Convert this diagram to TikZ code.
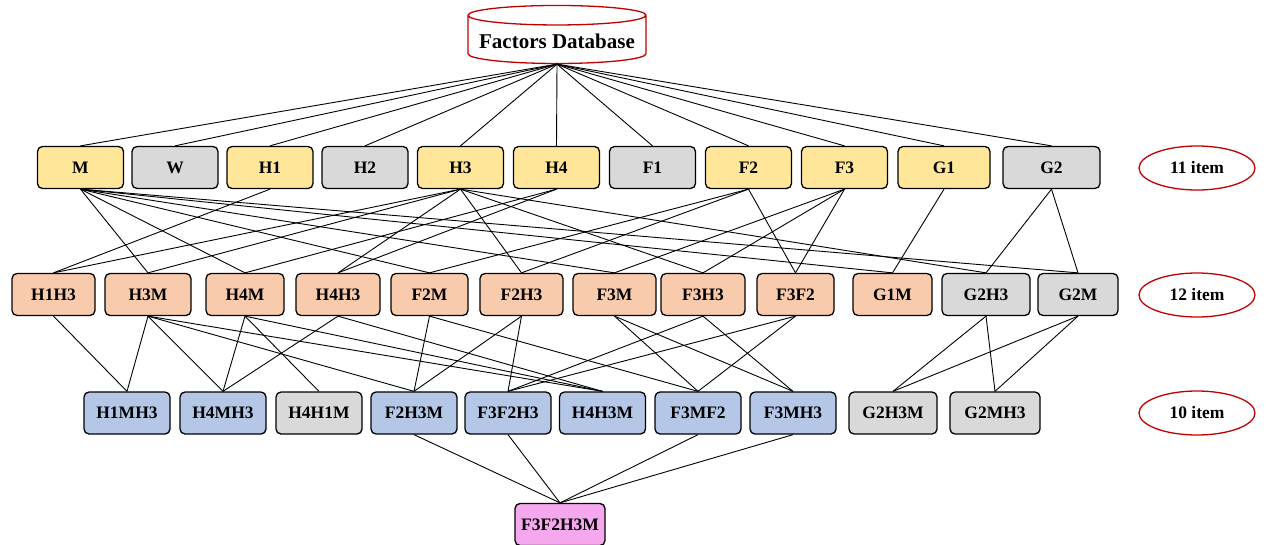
\documentclass[tikz,border=0pt]{standalone}
\usepackage{fontspec}
\setmainfont{Liberation Serif}
\usetikzlibrary{shapes.geometric}

\definecolor{gold}{RGB}{255,230,153}
\definecolor{peach}{RGB}{248,203,173}
\definecolor{ash}{RGB}{217,217,217}
\definecolor{sky}{RGB}{180,199,231}
\definecolor{orchid}{RGB}{246,168,238}
\definecolor{brick}{RGB}{192,0,0}

\tikzset{
  item/.style={draw, rounded corners=5pt, line width=1.3pt, minimum width=86pt,
    minimum height=42pt, inner sep=2pt, font=\bfseries\fontsize{17.5}{17.5}\selectfont},
  one/.style={item, fill=gold},
  two/.style={item, fill=peach},
  three/.style={item, fill=sky},
  four/.style={item, fill=orchid},
  none/.style={item, fill=ash},
  count/.style={draw=brick, ellipse, line width=1.3pt, minimum width=116pt,
    minimum height=44pt, font=\bfseries\fontsize{17.5}{17.5}\selectfont},
  link/.style={line width=0.9pt}
}

\begin{document}
\begin{tikzpicture}[x=1pt, y=-1pt]
  \useasboundingbox (0,0) rectangle (1266,544);
  \node (db) [draw=brick, line width=1.3pt, cylinder, shape border rotate=90, aspect=0.12,
    minimum width=178pt, minimum height=58pt, font=\bfseries\fontsize{21}{21}\selectfont]
    at (557,41) {Factors Database};

  % 1-itemsets
  \node (M)  [one]  at (80.5,167.5)  {M};
  \node (W)  [none] at (175,167.5)   {W};
  \node (H1) [one]  at (270,167.5)   {H1};
  \node (H2) [none] at (365,167.5)   {H2};
  \node (H3) [one]  at (460.5,167.5) {H3};
  \node (H4) [one]  at (556.5,167.5) {H4};
  \node (F1) [none] at (652.5,167.5) {F1};
  \node (F2) [one]  at (748.5,167.5) {F2};
  \node (F3) [one]  at (844.5,167.5) {F3};
  \node (G1) [one, minimum width=92pt]  at (944,167.5)    {G1};
  \node (G2) [none, minimum width=97pt] at (1051.5,167.5) {G2};

  % 2-itemsets
  \node (H1H3) [two, minimum width=83pt] at (53.5,294.5)  {H1H3};
  \node (H3M)  [two]                     at (148,294.5)   {H3M};
  \node (H4M)  [two, minimum width=78pt] at (245,294.5)   {H4M};
  \node (H4H3) [two, minimum width=84pt] at (338,294.5)   {H4H3};
  \node (F2M)  [two, minimum width=77pt] at (429.5,294.5) {F2M};
  \node (F2H3) [two, minimum width=83pt] at (521.5,294.5) {F2H3};
  \node (F3M)  [two, minimum width=83pt] at (614.5,294.5) {F3M};
  \node (F3H3) [two, minimum width=84pt] at (703,294.5)   {F3H3};
  \node (F3F2) [two, minimum width=77pt] at (795.5,294.5) {F3F2};
  \node (G1M)  [two, minimum width=79pt] at (892.5,294.5) {G1M};
  \node (G2H3) [none, minimum width=88pt] at (986,294.5)  {G2H3};
  \node (G2M)  [none, minimum width=80pt] at (1078,294.5) {G2M};

  % 3-itemsets
  \node (H1MH3)  [three] at (127,413)   {H1MH3};
  \node (H4MH3)  [three] at (223,413)   {H4MH3};
  \node (H4H1M)  [none]  at (319,413)   {H4H1M};
  \node (F2H3M)  [three] at (414,413)   {F2H3M};
  \node (F3F2H3) [three] at (508,413)   {F3F2H3};
  \node (H4H3M)  [three] at (602.5,413) {H4H3M};
  \node (F3MF2)  [three] at (698,413)   {F3MF2};
  \node (F3MH3)  [three] at (793,413)   {F3MH3};
  \node (G2H3M)  [none, minimum width=88pt] at (893,413) {G2H3M};
  \node (G2MH3)  [none, minimum width=90pt] at (995,413) {G2MH3};

  % 4-itemset
  \node (F3F2H3M) [four, minimum width=90pt] at (560,524.5) {F3F2H3M};

  % counts
  \node (c1) [count] at (1197,168) {11 item};
  \node (c2) [count] at (1197,295) {12 item};
  \node (c3) [count] at (1197,413) {10 item};

  \foreach \n in {M,W,H1,H2,H3,H4,F1,F2,F3,G1,G2}
    \draw[link] (db.south) -- (\n.north);

  \foreach \a/\b in {H1/H1H3, H3/H1H3, H3/H3M, M/H3M, H4/H4M, M/H4M, H4/H4H3, H3/H4H3,
      F2/F2M, M/F2M, F2/F2H3, H3/F2H3, F3/F3M, M/F3M, F3/F3H3, H3/F3H3,
      F3/F3F2, F2/F3F2, G1/G1M, M/G1M, G2/G2H3, H3/G2H3, G2/G2M, M/G2M}
    \draw[link] (\a.south) -- (\b.north);

  \foreach \a/\b in {H1H3/H1MH3, H3M/H1MH3, H3M/H4MH3, H4M/H4MH3, H4H3/H4MH3,
      H4M/H4H1M, H3M/F2H3M, F2M/F2H3M, F2H3/F2H3M, F2H3/F3F2H3, F3H3/F3F2H3, F3F2/F3F2H3,
      H3M/H4H3M, H4M/H4H3M, H4H3/H4H3M, F2M/F3MF2, F3M/F3MF2, F3F2/F3MF2,
      F3M/F3MH3, F3H3/F3MH3, G2H3/G2H3M, G2M/G2H3M, G2H3/G2MH3, G2M/G2MH3}
    \draw[link] (\a.south) -- (\b.north);

  \foreach \a in {F2H3M, F3F2H3, F3MF2, F3MH3}
    \draw[link] (\a.south) -- (F3F2H3M.north);
\end{tikzpicture}
\end{document}
